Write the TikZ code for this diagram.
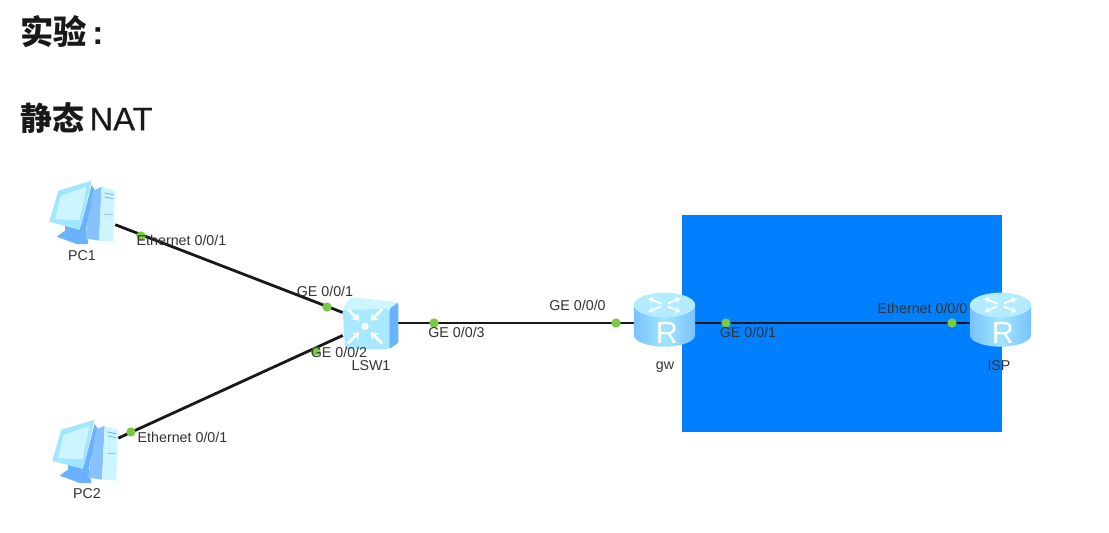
\documentclass[tikz,border=0pt]{standalone}
\usepackage{fontspec}
\setmainfont{Liberation Sans}
\newfontfamily\cjkfont{Noto Sans CJK SC}
\newfontfamily\medfont[FakeBold=0.4]{Liberation Sans}
\definecolor{netblue}{RGB}{0, 128, 255}
\definecolor{portgreen}{RGB}{122, 201, 67}
\definecolor{iconlight}{RGB}{205, 245, 255}
\definecolor{iconmid}{RGB}{160, 230, 255}
\definecolor{icondeep}{RGB}{105, 178, 255}
\usetikzlibrary{positioning, arrows.meta}

\begin{document}
\begin{tikzpicture}[
  x=0.75pt, y=-0.75pt,
  heading/.style={anchor=west, inner sep=0pt, text=black!90},
  devbox/.style={inner sep=0pt, minimum height=45pt},
  portdot/.style={circle, fill=portgreen, inner sep=0pt, minimum size=7pt},
  portlabel/.style={inner sep=0pt, text=black!80, font=\fontsize{10.7}{12}\selectfont},
  link/.style={draw=black!90, line width=2.1pt},
  pics/pcicon/.style={code={
    \begin{scope}[x=0.25pt, y=-0.25pt]
      \fill[icondeep] (-60,30) -- (-60,53) -- (-85,71) -- (-25,93) -- (10,93) -- (0,40) -- cycle;
      \fill[iconmid] (-80,-67) -- (20,-97) -- (-15,51) -- (-107,26) -- cycle;
      \fill[iconlight] (-73,-51) -- (5,-79) -- (-17,21) -- (-90,19) -- cycle;
      \fill[icondeep] (20,-84) -- (30,-69) -- (0,61) -- (-15,51) -- cycle;
      \fill[icondeep!80] (25,-67) -- (50,-79) -- (42,83) -- (0,76) -- cycle;
      \fill[iconlight] (50,-79) -- (90,-67) -- (85,86) -- (42,83) -- cycle;
      \draw[icondeep, line width=0.6pt] (58,-60) -- (84,-55) (58,-48) -- (84,-43) (58,4) -- (84,4);
    \end{scope}
  }},
  pics/switchicon/.style={code={
    \begin{scope}[x=0.25pt, y=-0.25pt]
      \fill[iconlight, rounded corners=1.5pt] (-82,-40) -- (-60,-78) -- (85,-62) -- (58,-42) -- cycle;
      \fill[iconmid!80!iconlight, rounded corners=1pt] (-82,-40) -- (58,-42) -- (58,78) -- (-75,78) -- cycle;
      \fill[icondeep, rounded corners=1pt] (58,-42) -- (85,-62) -- (85,60) -- (58,78) -- cycle;
      \fill[white] (-15,10) circle (11);
      \foreach \ang in {45,135,225,315}
        \draw[white, line width=2pt, -{Stealth[length=5pt, width=7pt]}, shift={(-15,10)}] (\ang:72) -- (\ang:24);
    \end{scope}
  }},
  pics/routericon/.style={code={
    \begin{scope}[x=0.25pt, y=-0.25pt]
      \path[left color=icondeep!70!iconmid, right color=icondeep!70!iconmid, middle color=iconmid]
        (-92,-45) -- (-92,45) arc[start angle=180, end angle=360, x radius=92, y radius=-35] -- (92,-45) -- cycle;
      \fill[iconmid!80!white] (0,-45) ellipse[x radius=92, y radius=37];
      \begin{scope}[shift={(0,-45)}, yscale=0.42]
        \foreach \ang in {45,135,225,315}
          \draw[white, line width=1.4pt, -{Stealth[length=4pt, width=5pt]}] (\ang:14) -- (\ang:68);
      \end{scope}
      \node[inner sep=0pt, text=white, font=\fontsize{23}{23}\selectfont] (-letter) at (7,40) {R};
    \end{scope}
  }}
]
  \useasboundingbox (0,0) rectangle (1109,532);
  \fill[white] (0,0) rectangle (1109,532);

  \node[heading, font=\fontsize{25}{25}\selectfont] (title) at (20,32) {{\cjkfont\bfseries 实验}\,\textbf{:}};
  \node[heading, font=\fontsize{24}{24}\selectfont] (subtitle) at (20,118) {{\cjkfont\bfseries 静态}\,{\medfont\fontsize{24.5}{24}\selectfont NAT}};

  \node[inner sep=0pt, minimum width=240pt, minimum height=162.75pt, fill=netblue] (natarea) at (842,323.5) {};

  \node[devbox, minimum width=45pt] (pc1) at (85,213) {};
  \node[devbox, minimum width=45pt] (pc2) at (88,452) {};
  \node[devbox, minimum width=40.5pt] (lsw1) at (370,323) {};
  \node[devbox, minimum width=45.75pt] (gw) at (664.5,323) {};
  \node[devbox, minimum width=45.75pt] (isp) at (1000.5,323) {};

  \draw[link] (pc1) -- (lsw1);
  \draw[link] (pc2) -- (lsw1);
  \draw[link] (lsw1) -- (gw);
  \draw[link] (gw) -- (isp);

  \pic at (85,213) {pcicon};
  \pic at (88,452) {pcicon};
  \pic at (370,323) {switchicon};
  \pic (gwicon) at (664.5,320) {routericon};
  \pic (ispicon) at (1000.5,320) {routericon};

  \node[portdot] (dot1) at (141,236) {};
  \node[portdot] (dot2) at (327,307) {};
  \node[portdot] (dot3) at (316,351) {};
  \node[portdot] (dot4) at (131,432) {};
  \node[portdot] (dot5) at (434,323) {};
  \node[portdot] (dot6) at (616,323) {};
  \node[portdot] (dot7) at (726,323) {};
  \node[portdot] (dot8) at (952,323) {};

  \node[portlabel] (pc1name) at (82,256) {PC1};
  \node[portlabel] (pc2name) at (87,494) {PC2};
  \node[portlabel] (lswname) at (371,366) {LSW1};
  \node[portlabel] (gwname) at (665,367) {gw};
  \node[portlabel] (ispname) at (999,366) {ISP};

  \node[portlabel] (pc1port) at (181.5,240) {Ethernet 0/0/1};
  \node[portlabel] (pc2port) at (182.5,437) {Ethernet 0/0/1};
  \node[portlabel] (lswport1) at (325,291) {GE 0/0/1};
  \node[portlabel] (lswport2) at (339,352) {GE 0/0/2};
  \node[portlabel] (lswport3) at (456.5,332) {GE 0/0/3};
  \node[portlabel] (gwport0) at (577.5,305) {GE 0/0/0};
  \node[portlabel] (gwport1) at (748,332) {GE 0/0/1};
  \node[portlabel] (ispport) at (922.5,308) {Ethernet 0/0/0};
\end{tikzpicture}
\end{document}
